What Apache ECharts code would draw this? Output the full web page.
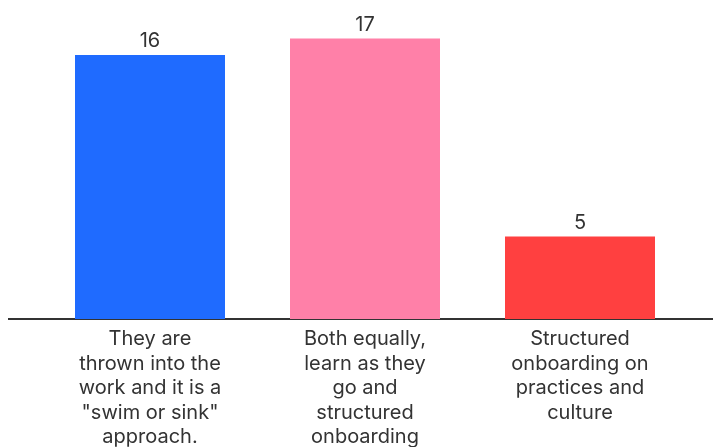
<!DOCTYPE html>
<html>
<head>
<meta charset="utf-8">
<script src="https://cdn.jsdelivr.net/npm/echarts@6/dist/echarts.min.js"></script>
<style>
	html, body { margin: 0; padding: 0; background: #fff; }
	#chart { width: 713px; height: 447px; }
</style>
</head>
<body>
<div id="chart"></div>
<script>
	// categories + values
	var categories = [
		'They are\nthrown into the\nwork and it is a\n"swim or sink"\napproach.',
		'Both equally,\nlearn as they\ngo and\nstructured\nonboarding',
		'Structured\nonboarding on\npractices and\nculture'
	];
	var values = [16, 17, 5];
	var barColors = ['#1f6bff', '#ff80a8', '#ff4040'];

	var mychart = echarts.init(document.getElementById('chart'));
	var option = {
		animation: false,
		grid: { left: 42.5, right: 25.5, top: 22, bottom: 128, containLabel: false, outerBoundsMode: 'none' },
		xAxis: {
			type: 'category',
			data: categories,
			axisLine: { show: false },
			axisTick: { show: false },
			axisLabel: {
				interval: 0,
				margin: 8,
				color: '#333',
				fontSize: 20,
				lineHeight: 24.5,
				fontFamily: 'Inter, "Noto Sans", sans-serif'
			}
		},
		yAxis: {
			type: 'value',
			min: 0,
			max: 18,
			show: false
		},
		// the baseline runs past the plot on both sides
		graphic: [{
			type: 'line',
			shape: { x1: 8, y1: 319, x2: 713, y2: 319 },
			style: { stroke: '#333', lineWidth: 2 }
		}],
		series: [{
			type: 'bar',
			barWidth: 150,
			data: values.map(function (v, i) {
				return { value: v, itemStyle: { color: barColors[i] } };
			}),
			label: {
				show: true,
				position: 'top',
				distance: 4,
				color: '#333',
				fontSize: 20,
				fontFamily: 'Inter, "Noto Sans", sans-serif'
			}
		}]
	};
	mychart.setOption(option);
</script>
</body>
</html>
